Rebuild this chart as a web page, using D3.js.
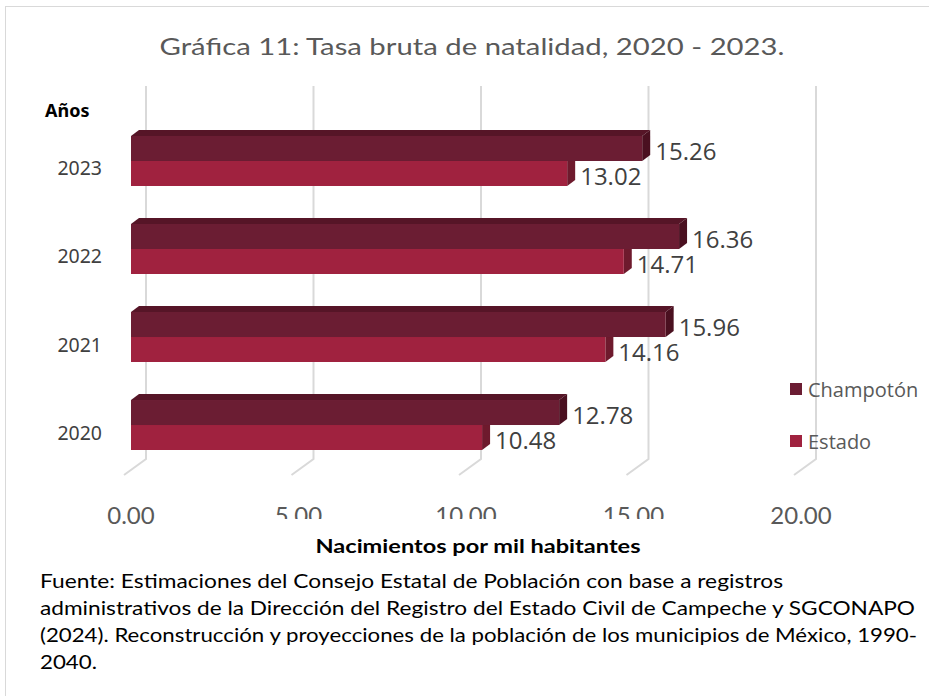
<!DOCTYPE html>
<html>
<head>
<meta charset="utf-8">
<script src="https://cdn.jsdelivr.net/npm/d3@7"></script>
<style>
  body { margin: 0; background: #fff; }
  svg { display: block; }
</style>
</head>
<body>
<svg width="929" height="696"></svg>
<script>
// datos de la gráfica
const years = ["2020", "2021", "2022", "2023"];
const series = ["Champotón", "Estado"];
const champoton = [12.78, 15.96, 16.36, 15.26];
const estado = [10.48, 14.16, 14.71, 13.02];
const xTicks = [0, 5, 10, 15, 20];

const titleText = "Gráfica 11: Tasa bruta de natalidad, 2020 - 2023.";
const xTitle = "Nacimientos por mil habitantes";
const yTitle = "Años";
const footer = [
    "Fuente: Estimaciones del Consejo Estatal de Población con base a registros",
    "administrativos de la Dirección del Registro del Estado Civil de Campeche y SGCONAPO",
    "(2024). Reconstrucción y proyecciones de la población de los municipios de México, 1990-",
    "2040."
];

const colors = {
    "Champotón": { front: "#6b1d33", top: "#561527", side: "#4a1020" },
    "Estado": { front: "#a0223f", top: "#871b35", side: "#6e1a2d" }
};

const svg = d3.select("svg");

// marco exterior
svg.append("rect")
    .attr("x", 5.5).attr("y", 6.5)
    .attr("width", 940).attr("height", 700)
    .attr("fill", "none")
    .attr("stroke", "#d9d9d9");

// escalas
const scX = d3.scaleLinear().domain([0, 20]).range([131, 801]);
const scY = d3.scaleBand()
    .domain(years.slice().reverse())
    .range([136, 450])
    .paddingInner(0.432);
const scS = d3.scaleBand().domain(series).range([0, scY.bandwidth()]);

const depthX = 8, depthY = 6;   // profundidad de la barra
const backX = 15;               // desplazamiento de la pared del fondo

// líneas de cuadrícula (pared y piso)
const grid = svg.append("g")
    .attr("stroke", "#d9d9d9")
    .attr("stroke-width", 2)
    .attr("fill", "none");
grid.selectAll("path")
    .data(xTicks)
    .enter()
    .append("path")
    .attr("d", d => `M${scX(d) + backX},86 L${scX(d) + backX},459 L${scX(d) - 7},475`);

// barras 3D
const rows = [];
years.forEach((y, i) => {
    rows.push({ year: y, key: "Estado", value: estado[i] });
    rows.push({ year: y, key: "Champotón", value: champoton[i] });
});

const bars = svg.append("g");
rows.forEach(d => {
    const x0 = scX(0), x1 = scX(d.value);
    const y0 = scY(d.year) + scS(d.key);
    const h = scS.bandwidth();
    const c = colors[d.key];
    const g = bars.append("g");
    g.append("path")
        .attr("d", `M${x0},${y0} L${x0 + depthX},${y0 - depthY} L${x1 + depthX},${y0 - depthY} L${x1},${y0} Z`)
        .attr("fill", c.top);
    g.append("path")
        .attr("d", `M${x1},${y0} L${x1 + depthX},${y0 - depthY} L${x1 + depthX},${y0 + h - depthY} L${x1},${y0 + h} Z`)
        .attr("fill", c.side);
    g.append("rect")
        .attr("x", x0).attr("y", y0)
        .attr("width", x1 - x0).attr("height", h)
        .attr("fill", c.front);
});

// etiquetas de valores
svg.append("g")
    .selectAll("text")
    .data(rows)
    .enter()
    .append("text")
    .attr("x", d => scX(d.value) + depthX + 5)
    .attr("y", d => scY(d.year) + scS(d.key) + scS.bandwidth() / 2 + 2)
    .attr("dominant-baseline", "central")
    .attr("font-family", "'Open Sans', sans-serif")
    .attr("font-size", 24)
    .attr("fill", "#404040")
    .text(d => d.value.toFixed(2));

// etiquetas del eje Y (años)
svg.append("g")
    .selectAll("text")
    .data(years)
    .enter()
    .append("text")
    .attr("x", 102)
    .attr("y", d => scY(d) + scY.bandwidth() / 2 + 7)
    .attr("dominant-baseline", "central")
    .attr("text-anchor", "end")
    .attr("font-family", "'Noto Sans', sans-serif")
    .attr("font-size", 19.5)
    .attr("fill", "#404040")
    .text(d => d);

svg.append("text")
    .attr("x", 45).attr("y", 117)
    .attr("font-family", "'Noto Sans', sans-serif")
    .attr("font-weight", "bold")
    .attr("font-size", 18)
    .attr("fill", "#000")
    .text(yTitle);

// etiquetas del eje X
svg.append("g")
    .selectAll("text")
    .data(xTicks)
    .enter()
    .append("text")
    .attr("x", d => scX(d))
    .attr("y", 524)
    .attr("text-anchor", "middle")
    .attr("font-family", "'Lato', sans-serif")
    .attr("font-size", 24)
    .attr("fill", "#595959")
    .text(d => d.toFixed(2));

// caja blanca del título del eje (recorta las etiquetas como en el original)
svg.append("rect")
    .attr("x", 245).attr("y", 519)
    .attr("width", 460).attr("height", 42)
    .attr("fill", "#fff");

svg.append("text")
    .attr("x", 478).attr("y", 553)
    .attr("text-anchor", "middle")
    .attr("font-family", "'Lato', sans-serif")
    .attr("font-weight", "bold")
    .attr("font-size", 19)
    .attr("textLength", 325)
    .attr("lengthAdjust", "spacingAndGlyphs")
    .attr("fill", "#000")
    .text(xTitle);

// título
svg.append("text")
    .attr("x", 472).attr("y", 55)
    .attr("text-anchor", "middle")
    .attr("font-family", "'Lato', sans-serif")
    .attr("font-size", 24)
    .attr("textLength", 625)
    .attr("lengthAdjust", "spacingAndGlyphs")
    .attr("fill", "#595959")
    .text(titleText);

// leyenda
const legend = svg.append("g")
    .selectAll("g")
    .data(series)
    .enter()
    .append("g")
    .attr("transform", (d, i) => `translate(790, ${383 + i * 52})`);
legend.append("rect")
    .attr("width", 12).attr("height", 12)
    .attr("fill", d => colors[d].front);
legend.append("text")
    .attr("x", 18).attr("y", 6)
    .attr("dominant-baseline", "central")
    .attr("font-family", "'Open Sans', sans-serif")
    .attr("font-size", 20)
    .attr("fill", "#595959")
    .text(d => d);

// fuente
const footWidths = [743, 875, 877, 57];
svg.append("g")
    .selectAll("text")
    .data(footer)
    .enter()
    .append("text")
    .attr("x", 40)
    .attr("y", (d, i) => 588 + i * 27)
    .attr("font-family", "'Lato', sans-serif")
    .attr("font-size", 19)
    .attr("textLength", (d, i) => footWidths[i])
    .attr("lengthAdjust", "spacingAndGlyphs")
    .attr("fill", "#000")
    .text(d => d);
</script>
</body>
</html>
